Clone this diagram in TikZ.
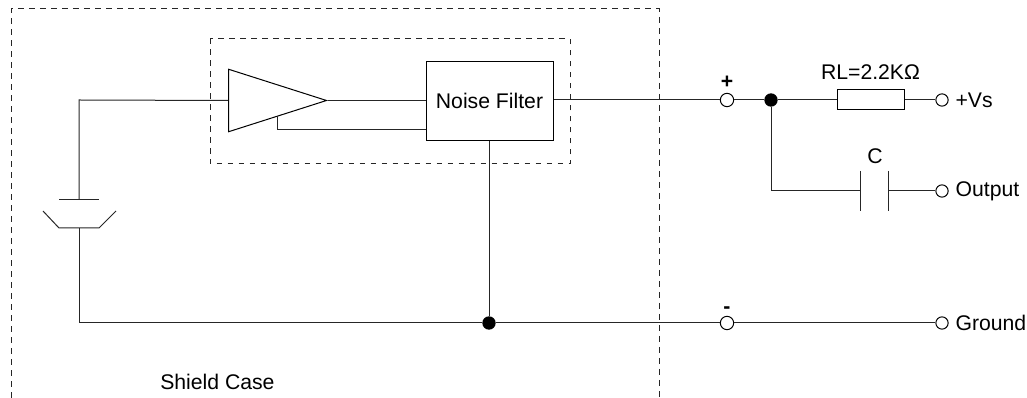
\documentclass[tikz,border=0pt]{standalone}
\usepackage{fontspec}
\setmainfont{Liberation Sans}
\usetikzlibrary{positioning, shapes.geometric}

\tikzset{
    wire/.style = {line width=0.75pt, black!85},
    case/.style = {line width=0.75pt, black!85, dash pattern=on 4.4pt off 3.85pt},
    term/.style = {circle, draw, line width=0.75pt, fill=white, minimum size=9.2pt, inner sep=0pt},
    junc/.style = {circle, fill=black, minimum size=10pt, inner sep=0pt},
    lbl/.style = {font=\fontsize{15.9}{18}\selectfont, inner sep=0pt},
    block/.style = {draw, line width=0.75pt, fill=white, inner sep=0pt}
}

\begin{document}
\begin{tikzpicture} [x=0.75pt, y=-0.75pt]
        \useasboundingbox (0,0) rectangle (1027,398);

        % shield case and inner box
        \draw [case] (11,398) -- (11,9) -- (659,9) -- (659,398);
        \draw [case] (210,38.5) rectangle (570,164);

        % amplifier and filter
        \node (amp) [isosceles triangle, isosceles triangle stretches, draw, line width=0.75pt, inner sep=0pt,
            minimum width=46.9pt, minimum height=73.5pt, anchor=lower side] at (228,100.5) {};
        \node (filter) [block, lbl, minimum width=95.25pt, minimum height=59.25pt] at (489.5,101) {Noise Filter};

        % terminals
        \node (plus) [term, minimum size=10pt] at (727,100) {};
        \node (minus) [term, minimum size=10pt] at (727,323) {};
        \node (vs) [term] at (942,100) {};
        \node (output) [term] at (942,191) {};
        \node (ground) [term] at (942,323) {};
        \node (j1) [junc] at (771,100) {};
        \node (j2) [junc] at (489,323) {};
        \node (rl) [block, minimum width=50.25pt, minimum height=15pt] at (870.5,100) {};

        \node [lbl, font=\fontsize{15.9}{18}\selectfont\bfseries, above = 3pt of plus] {+};
        \node [lbl, font=\fontsize{15.9}{18}\selectfont\bfseries, above = 1.5pt of minus] {-};
        \node [lbl, above = 7pt of rl] {RL=2.2KΩ};
        \node [lbl] at (875,156) {C};
        \node [lbl, right = 5pt of vs] {+Vs};
        \node [lbl, right = 5pt of output] {Output};
        \node [lbl, right = 5pt of ground] {Ground};
        \node [lbl, anchor=west] at (160,382) {Shield Case};

        % sensor plates
        \coordinate (p1) at (79,200);
        \coordinate (p2) at (79,228);
        \coordinate (c1) at (860,191);
        \coordinate (c2) at (888,191);
        \coordinate (fb) at (277,116.5);
        \draw [wire] (59,200) -- (99,200);
        \draw [wire] (43,211) -- (59,228) -- (99,228) -- (116,211);
        \draw [wire] (860,171) -- (860,211);
        \draw [wire] (888,171) -- (888,211);

        % wiring
        \draw [wire] (p1) -- (79,100) -- (amp.lower side);
        \draw [wire] (amp.apex) -- (amp.apex -| filter.west);
        \draw [wire] (fb) -- (277,130) -- (426,130);
        \draw [wire] (filter.east |- plus) -- (plus);
        \draw [wire] (plus) -- (j1) -- (rl) -- (vs);
        \draw [wire] (j1) |- (c1);
        \draw [wire] (c2) -- (output);
        \draw [wire] (filter.south -| j2) -- (j2);
        \draw [wire] (p2) -- (79,323) -- (j2) -- (minus) -- (ground);
    \end{tikzpicture}
\end{document}
